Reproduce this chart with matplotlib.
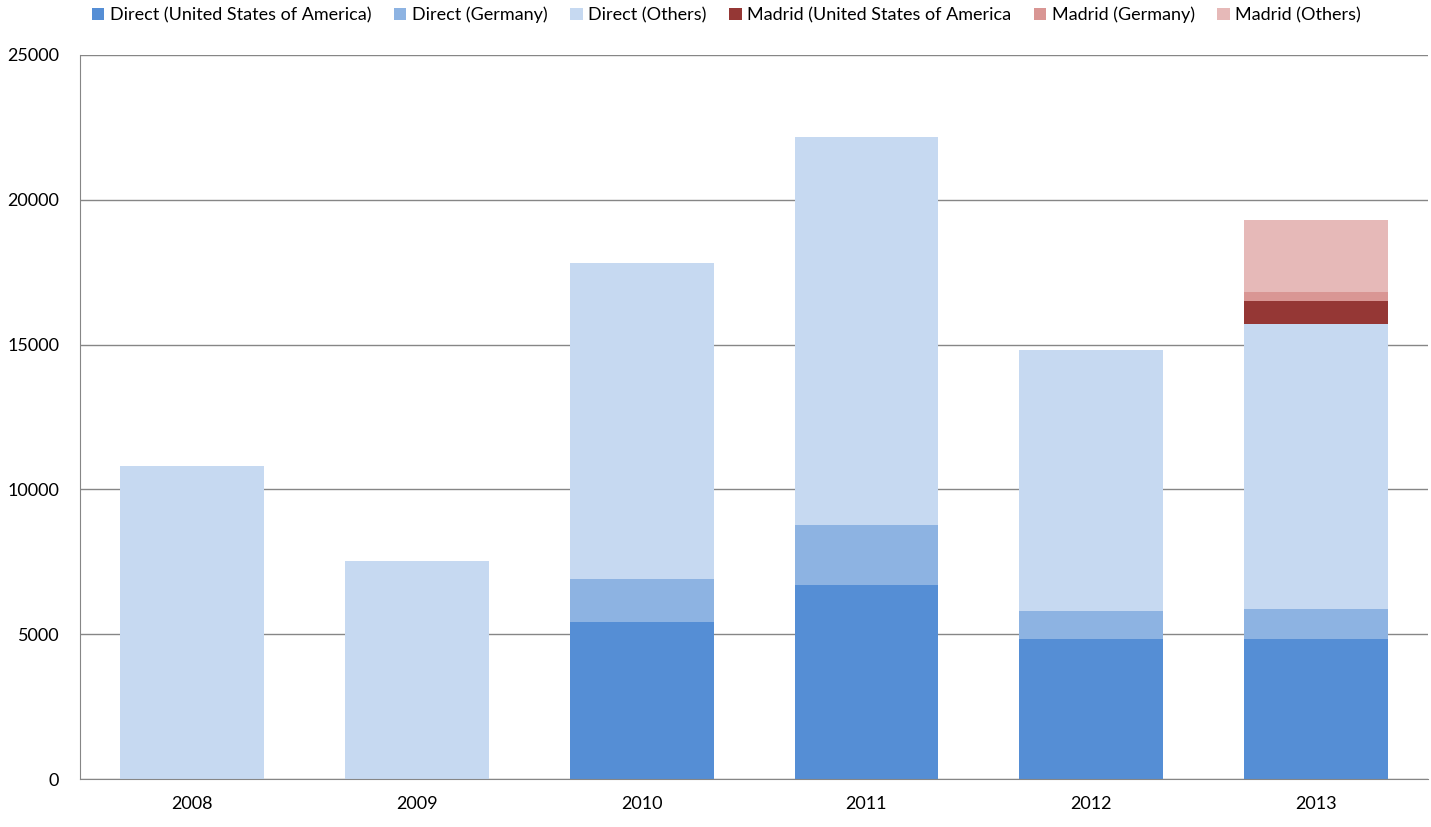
import matplotlib
matplotlib.use("Agg")
import matplotlib.pyplot as plt
import numpy as np

years = ["2008", "2009", "2010", "2011", "2012", "2013"]

# stacked series, bottom to top
direct_usa = [0, 0, 5420, 6700, 4830, 4830]
direct_germany = [0, 0, 1490, 2070, 970, 1040]
direct_others = [10800, 7530, 10900, 13400, 9010, 9840]
madrid_usa = [0, 0, 0, 0, 0, 800]
madrid_germany = [0, 0, 0, 0, 0, 310]
madrid_others = [0, 0, 0, 0, 0, 2480]

series = [
    ("Direct (United States of America)", direct_usa, "#558ED5"),
    ("Direct (Germany)", direct_germany, "#8DB3E2"),
    ("Direct (Others)", direct_others, "#C6D9F1"),
    ("Madrid (United States of America", madrid_usa, "#953735"),
    ("Madrid (Germany)", madrid_germany, "#D99694"),
    ("Madrid (Others)", madrid_others, "#E6B9B8"),
]

plt.rcParams['font.family'] = ['Lato', 'DejaVu Sans']

fig = plt.figure(figsize=(14.31, 8.27), dpi=100)
ax = fig.add_axes([0.0559, 0.058, 0.9421, 0.8755])

x = np.arange(len(years))
bottom = np.zeros(len(years))
handles = []
for label, vals, color in series:
    vals = np.array(vals, dtype=float)
    b = ax.bar(x, vals, width=0.64, bottom=bottom, color=color, label=label, zorder=2)
    handles.append(b)
    bottom += vals

ax.set_xlim(-0.5, len(years) - 0.5)
ax.set_ylim(0, 25000)
ax.set_yticks(range(0, 25001, 5000))
ax.set_xticks(x)
ax.set_xticklabels(years)
ax.yaxis.grid(True, color="#868686", linewidth=1, zorder=0)
ax.set_axisbelow(True)

for side in ["top", "right"]:
    ax.spines[side].set_visible(False)
ax.spines["left"].set_color("#868686")
ax.spines["bottom"].set_color("#868686")
ax.tick_params(axis="both", length=0, labelsize=13, colors="#000000", pad=12)
ax.tick_params(axis="y", pad=15)

fig.legend(handles=handles, loc="upper left", bbox_to_anchor=(0.0565, 1.005), ncol=6,
           frameon=False, fontsize=13, handlelength=0.7, handleheight=0.7,
           handletextpad=0.3, columnspacing=1.25, borderaxespad=0.2)

fig.savefig("out.png", dpi=100)
